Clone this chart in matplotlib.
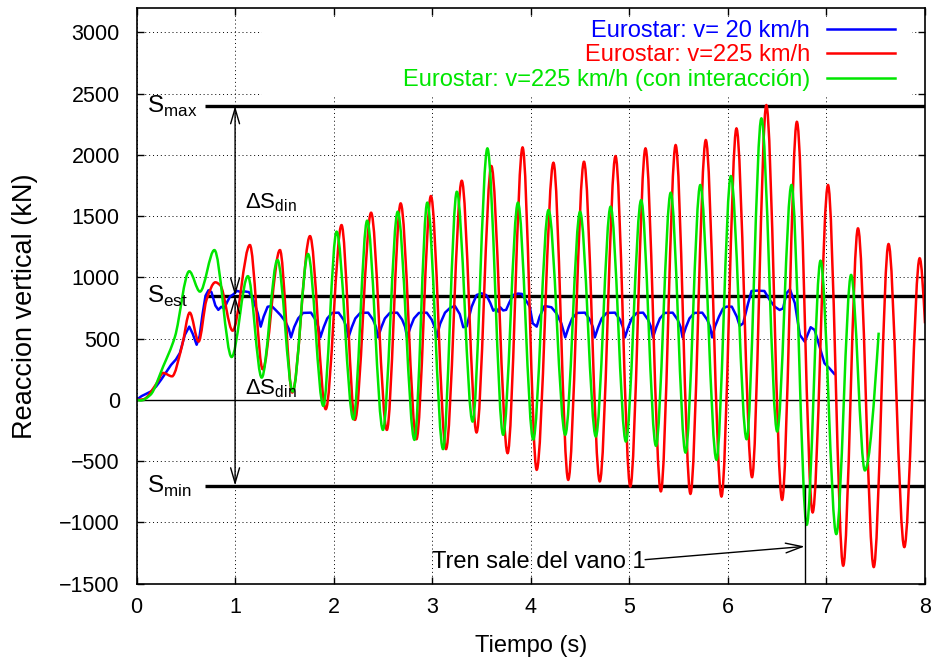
import numpy as np
import matplotlib.pyplot as plt
from matplotlib.path import Path
from matplotlib.patches import PathPatch, Rectangle
from matplotlib.lines import Line2D

plt.rcParams['font.family'] = ['Liberation Sans', 'DejaVu Sans']

# Eurostar at 20 km/h: vertical reaction (kN) vs time (s)
t_20 = [0.00, 0.05, 0.10, 0.15, 0.20, 0.25, 0.30, 0.35, 0.40, 0.44, 0.49, 0.535,
        0.57, 0.61, 0.64, 0.67, 0.70, 0.73, 0.76, 0.80, 0.83, 0.86, 0.89, 0.92,
        0.95, 0.98, 1.02, 1.06, 1.10, 1.14, 1.18, 1.23, 1.26, 1.29, 1.33, 1.37,
        1.41, 1.46, 1.51, 1.545, 1.567,
        1.60, 1.64, 1.69, 1.77, 1.815, 1.845, 1.865,
        1.90, 1.935, 1.985, 2.05, 2.10, 2.13, 2.15,
        2.185, 2.22, 2.27, 2.35, 2.40, 2.43, 2.45,
        2.485, 2.52, 2.57, 2.645, 2.695, 2.725, 2.745,
        2.78, 2.815, 2.865, 2.945, 2.995, 3.025, 3.045,
        3.08, 3.13, 3.18, 3.23, 3.28, 3.315, 3.35, 3.40, 3.45, 3.50, 3.55, 3.59,
        3.62, 3.65, 3.67, 3.69, 3.72, 3.75, 3.78, 3.82, 3.87, 3.91, 3.96, 3.99,
        4.02, 4.06, 4.09, 4.14, 4.21, 4.26, 4.31, 4.35,
        4.385, 4.42, 4.47, 4.55, 4.60, 4.63, 4.65,
        4.685, 4.72, 4.77, 4.855, 4.905, 4.935, 4.955,
        4.99, 5.025, 5.075, 5.14, 5.19, 5.22, 5.24,
        5.275, 5.31, 5.36, 5.44, 5.49, 5.52, 5.54,
        5.575, 5.61, 5.66, 5.74, 5.79, 5.82, 5.84,
        5.87, 5.91, 5.95, 5.985, 6.04, 6.09, 6.12, 6.155, 6.205, 6.24, 6.30, 6.37,
        6.425, 6.475, 6.525, 6.56, 6.594, 6.63, 6.68, 6.73, 6.78, 6.84, 6.88,
        6.95, 6.98, 7.03, 7.08]
r_20 = [0, 30, 50, 70, 110, 165, 225, 285, 330, 383, 530, 598,
        540, 450, 520, 700, 850, 895, 880, 770, 735, 760, 745, 800,
        845, 860, 890, 880, 885, 880, 830, 707, 598, 680, 760, 767,
        735, 693, 640, 580, 510,
        595, 665, 710, 712, 655, 595, 510,
        595, 665, 710, 712, 655, 595, 510,
        595, 665, 710, 712, 655, 595, 510,
        595, 665, 710, 712, 655, 595, 510,
        595, 665, 710, 712, 655, 595, 510,
        620, 712, 750, 767, 700, 593, 600, 760, 856, 870, 855, 790,
        728, 745, 720, 756, 730, 735, 790, 856, 868, 865, 800, 761,
        625, 598, 679, 767, 756, 707, 625, 510,
        595, 665, 710, 712, 655, 595, 510,
        595, 665, 710, 712, 655, 595, 510,
        595, 665, 710, 712, 655, 595, 510,
        595, 665, 710, 712, 655, 595, 510,
        595, 665, 710, 712, 655, 595, 510,
        600, 680, 745, 761, 761, 680, 604, 625, 788, 889, 892, 889,
        815, 761, 734, 747, 870, 903, 788, 530, 475, 593, 571,
        381, 299, 258, 212]

# Eurostar at 225 km/h: turning points of the response
t_225 = [0.00, 0.07, 0.205, 0.27, 0.36, 0.46, 0.54, 0.63, 0.71, 0.80,
         0.85, 0.975, 1.15, 1.28, 1.455, 1.58, 1.76, 1.92, 2.08, 2.216,
         2.38, 2.54, 2.68, 2.84, 2.987, 3.14, 3.30, 3.45, 3.60, 3.765,
         3.917, 4.06, 4.23, 4.38, 4.54, 4.70, 4.86, 5.01, 5.164, 5.32,
         5.47, 5.62, 5.776, 5.935, 6.087, 6.245, 6.39, 6.55, 6.70, 6.86,
         7.016, 7.17, 7.32, 7.48, 7.63, 7.79, 7.946, 8.00]
r_225 = [0, 5, 136, 220, 192, 435, 712, 476, 816, 960,
         935, 565, 1264, 250, 1223, 60, 1337, -76, 1427, -163,
         1528, -245, 1604, -321, 1664, -402, 1789, -266, 1909, -435,
         2061, -571, 1936, -653, 1944, -666, 1990, -707, 2053, -747,
         2080, -767, 2121, -789, 2216, -631, 2406, -816, 2270, -919,
         1754, -1354, 1400, -1365, 1272, -1202, 1156, 625]

# Eurostar at 225 km/h with vehicle-structure interaction
t_int = [0.00, 0.04, 0.14, 0.27, 0.39, 0.535, 0.644, 0.79, 0.965, 1.13,
         1.27, 1.43, 1.585, 1.74, 1.895, 2.03, 2.20, 2.34, 2.50, 2.65,
         2.82, 2.95, 3.11, 3.25, 3.41, 3.56, 3.72, 3.87, 4.025, 4.18,
         4.35, 4.50, 4.66, 4.81, 4.965, 5.12, 5.27, 5.42, 5.57, 5.72,
         5.884, 6.03, 6.19, 6.34, 6.50, 6.645, 6.80, 6.94, 7.10, 7.25,
         7.39, 7.53]
r_int = [0, -5, 40, 272, 516, 1050, 884, 1223, 350, 1010,
         182, 1142, 68, 1191, -49, 1373, -158, 1463, -245, 1536,
         -326, 1610, -402, 1699, -177, 2053, -285, 1610, -323, 1550,
         -285, 1536, -299, 1577, -340, 1631, -375, 1691, -430, 1754,
         -489, 1827, -321, 2298, -258, 1754, -1020, 1136, -1096, 1020,
         -576, 549]

labels = ['Eurostar: v= 20 km/h', 'Eurostar: v=225 km/h',
          'Eurostar: v=225 km/h (con interacción)']
colors = ['#0000ff', '#ff0000', '#00e600']

S_max, S_est, S_min = 2400, 850, -700
t_exit = 6.78


def smooth_path(x, y):
    """Monotone cubic (PCHIP) through the points, as a Bezier path."""
    x = np.asarray(x, float)
    y = np.asarray(y, float)
    h = np.diff(x)
    d = np.diff(y) / h
    m = np.zeros_like(y)
    for k in range(1, len(x) - 1):
        if d[k - 1] * d[k] > 0:
            w1 = 2 * h[k] + h[k - 1]
            w2 = h[k] + 2 * h[k - 1]
            m[k] = (w1 + w2) / (w1 / d[k - 1] + w2 / d[k])
    m[-1] = 1.5 * d[-1] - 0.5 * m[-2]
    verts = [(x[0], y[0])]
    codes = [Path.MOVETO]
    for k in range(len(x) - 1):
        verts += [(x[k] + h[k] / 3, y[k] + m[k] * h[k] / 3),
                  (x[k + 1] - h[k] / 3, y[k + 1] - m[k + 1] * h[k] / 3),
                  (x[k + 1], y[k + 1])]
        codes += [Path.CURVE4] * 3
    return Path(verts, codes)


fig = plt.figure(figsize=(9.37, 6.61), dpi=100)
ax = fig.add_axes([0.1457, 0.1172, 0.9872 - 0.1457, 0.9879 - 0.1172])

ax.set_xlim(0, 8)
ax.set_ylim(-1500, 3200)
ax.set_xticks(range(0, 9))
ax.set_yticks(range(-1500, 3001, 500))
ax.set_yticklabels(['\u2212' + str(-v) if v < 0 else str(v)
                    for v in range(-1500, 3001, 500)])
ax.tick_params(direction='in', length=5, width=1, top=True, right=True,
               labelsize=15.5)
ax.tick_params(axis='x', pad=10)
ax.tick_params(axis='y', pad=12)
ax.grid(True, color='black', lw=0.7, ls=(0, (1, 3)))
for sp in ax.spines.values():
    sp.set_linewidth(1.2)

# white key area hides the grid behind the legend
ax.add_patch(Rectangle((0.159, 0.845), 0.8245, 0.14, transform=ax.transAxes,
                       facecolor='white', edgecolor='none', zorder=1.6))

ax.axhline(0, color='black', lw=1.0, zorder=1.7)
ax.hlines([S_max, S_est, S_min], 0.695, 8, colors='black', lw=2.4, zorder=1.8)

ax.plot(t_20, r_20, color=colors[0], lw=1.8, zorder=2.0)
ax.add_patch(PathPatch(smooth_path(t_225, r_225), facecolor='none',
                       edgecolor=colors[1], lw=1.8, zorder=2.1))
ax.add_patch(PathPatch(smooth_path(t_int, r_int), facecolor='none',
                       edgecolor=colors[2], lw=1.8, zorder=2.2))

# dynamic amplitude arrows
arrow_kw = dict(arrowstyle='<->,head_length=1.1,head_width=0.32',
                color='black', lw=1.0, shrinkA=0, shrinkB=0,
                mutation_scale=10)
ax.annotate('', xy=(1, S_max), xytext=(1, S_est), arrowprops=arrow_kw, zorder=3)
ax.annotate('', xy=(1, S_min), xytext=(1, S_est), arrowprops=arrow_kw, zorder=3)

ax.text(0.105, S_max - 55, r'S$_\mathregular{max}$', fontsize=17.5, va='baseline')
ax.text(0.105, S_est - 55, r'S$_\mathregular{est}$', fontsize=17.5, va='baseline')
ax.text(0.105, S_min - 55, r'S$_\mathregular{min}$', fontsize=17.5, va='baseline')
ax.text(1.10, 1563, r'ΔS$_\mathregular{din}$', fontsize=16, va='baseline')
ax.text(1.10, 41, r'ΔS$_\mathregular{din}$', fontsize=16, va='baseline')

# train leaves span 1
ax.plot([t_exit, t_exit], [-1500, S_min], color='black', lw=1.0, zorder=3)
ax.text(3.0, -1370, 'Tren sale del vano 1', fontsize=17, va='baseline')
ax.annotate('', xy=(t_exit, -1197), xytext=(5.16, -1305),
            arrowprops=dict(arrowstyle='->,head_length=1.2,head_width=0.35',
                            color='black', lw=1.0, shrinkA=0, shrinkB=0,
                            mutation_scale=10), zorder=3)

handles = [Line2D([], [], color=c, lw=1.8) for c in colors]
leg = ax.legend(handles, labels, loc='upper right', bbox_to_anchor=(0.962, 0.979),
                markerfirst=False, frameon=False, fontsize=17, handlelength=2.9,
                handletextpad=0.7, labelspacing=0.1, borderaxespad=0, borderpad=0)
for txt, c in zip(leg.get_texts(), colors):
    txt.set_color(c)

fig.text(0.027, 0.537, 'Reaccion vertical (kN)', rotation=90, fontsize=19.5,
         va='center', ha='center')
fig.text(0.5667, 0.022, 'Tiempo (s)', fontsize=17, va='center', ha='center')

fig.savefig('out.png', dpi=100)
